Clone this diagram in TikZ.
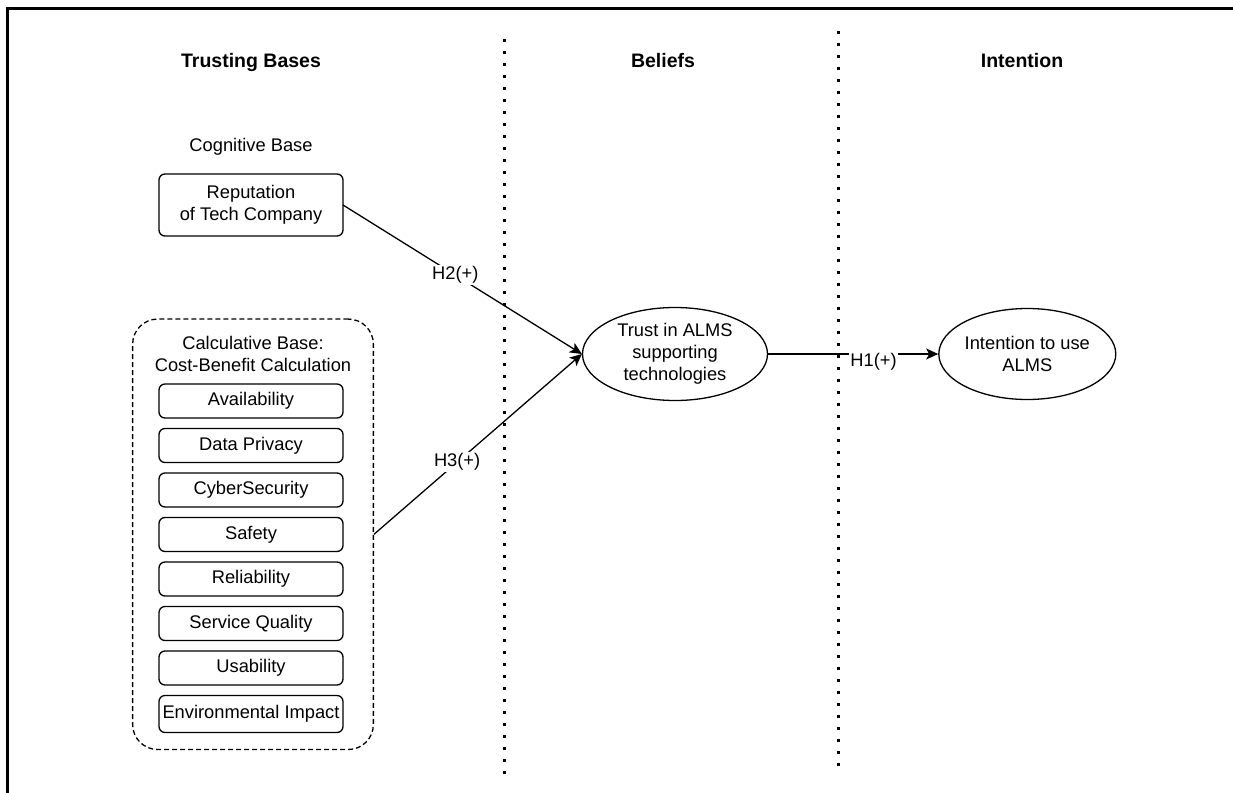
\documentclass[tikz,border=0pt]{standalone}
\usepackage{fontspec}
\setmainfont{Liberation Sans}
\usetikzlibrary{arrows.meta,positioning,fit,shapes.geometric}
\tikzset{
  hyp/.style={-{Stealth[length=12pt,width=11pt,inset=3pt]}, line width=1.3pt, draw=black},
  hlabel/.style={fill=white, inner sep=1.5pt},
  divider/.style={line width=3pt, dash pattern=on 3pt off 9pt},
  frameline/.style={line width=2.6pt},
  heading/.style={font=\bfseries\fontsize{19.5}{22}\selectfont, inner sep=0pt, anchor=base},
  caption/.style={align=center, inner sep=0pt},
  factor/.style={rounded corners=6pt, draw, line width=1.3pt, minimum width=184pt,
                 minimum height=34pt, align=center, inner sep=1pt, outer sep=0pt},
  construct/.style={ellipse, draw, line width=1.3pt, align=center, inner sep=0pt},
  group/.style={rounded corners=25pt, draw, line width=1.3pt, dash pattern=on 5pt off 3pt},
}
\begin{document}
\begin{tikzpicture}[x=1pt,y=-1pt,node distance=10.5pt,font=\fontsize{18.3}{22}\selectfont]
    \useasboundingbox (0,0) rectangle (1233,792);
    \draw[frameline] (7.5,800) |- (1240,8.5);
    % columns
    \draw[divider] (504,39) -- (504,777);
    \draw[divider] (838,31) -- (838,772);
    \node[heading] (hbases) at (251,67) {Trusting Bases};
    \node[heading] (hbeliefs) at (663,67) {Beliefs};
    \node[heading] (hintent) at (1022,67) {Intention};
    % cognitive base
    \node[caption] (cogtitle) at (251,147) {Cognitive Base};
    \node[factor,minimum height=62pt] (rep) at (251,205) {Reputation\\of Tech Company};
    % calculative base
    \node[caption] (calctitle) at (253,354) {Calculative Base:\\Cost-Benefit Calculation};
    \node[factor] (avail) at (251,401) {Availability};
    \node[factor,below=of avail] (privacy) {Data Privacy};
    \node[factor,below=of privacy] (cyber) {CyberSecurity};
    \node[factor,below=of cyber] (safety) {Safety};
    \node[factor,below=of safety] (reliab) {Reliability};
    \node[factor,below=of reliab] (service) {Service Quality};
    \node[factor,below=of service] (usab) {Usability};
    \node[factor,below=of usab,minimum height=37pt] (envir) {Environmental Impact};
    \node[group,fit=(calctitle)(avail)(envir),inner xsep=22pt,inner ysep=17pt] (calc) {};
    % beliefs and intention
    \node[construct,minimum width=185pt,minimum height=93pt] (trust) at (675,354)
      {Trust in ALMS\\supporting\\technologies};
    \node[construct,minimum width=165pt,minimum height=91pt,right=170pt of trust] (intent)
      {Intention to use\\ALMS};
    \draw[hyp] (rep.east) -- node[hlabel,pos=0.47] {H2(+)} (trust.west);
    \draw[hyp] (calc.east) -- node[hlabel,pos=0.4] {H3(+)} (trust.west);
    \draw[hyp] (trust) -- node[hlabel,pos=0.62,yshift=-8pt] {H1(+)} (intent);
\end{tikzpicture}
\end{document}
